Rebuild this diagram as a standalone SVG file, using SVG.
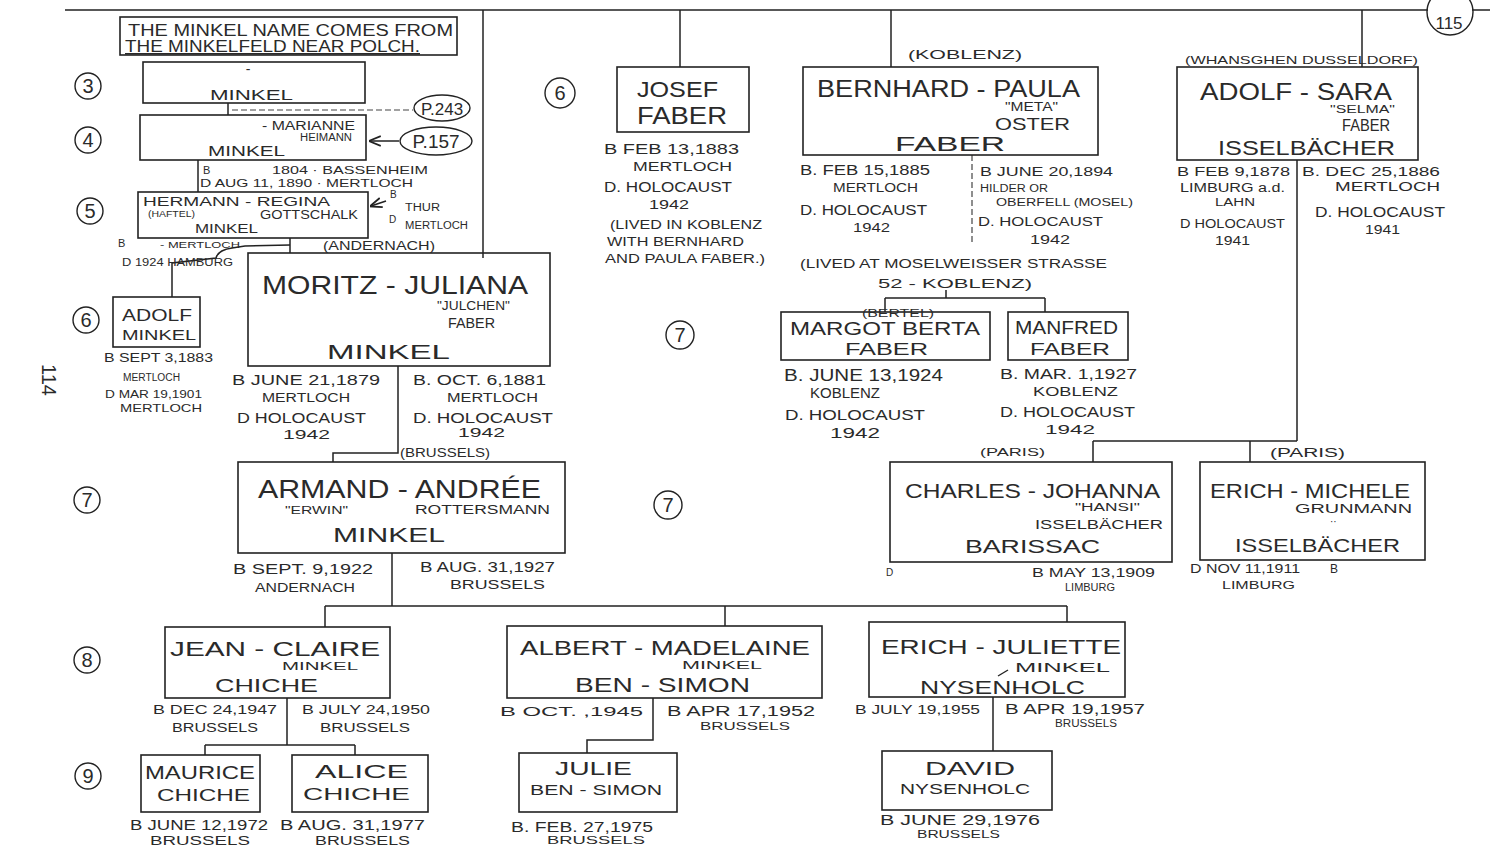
<svg xmlns="http://www.w3.org/2000/svg" width="1490" height="852" viewBox="0 0 1490 852">
<defs>
<marker id="ah" viewBox="0 0 10 10" refX="9" refY="5" markerWidth="8" markerHeight="8" orient="auto-start-reverse"><path d="M0,1 L10,5 L0,9" fill="none" stroke="#222" stroke-width="1.5"/></marker>
</defs>
<style>
text{font-family:"Liberation Sans",Arial,sans-serif;fill:#2a2a2a}
.b{fill:none;stroke:#222;stroke-width:1.6}
.c{fill:none;stroke:#222;stroke-width:1.5}
.d{fill:none;stroke:#444;stroke-width:1.2;stroke-dasharray:6 3}
.g{fill:none;stroke:#222;stroke-width:1.4}
.n{font-size:20px;text-anchor:middle}
</style>
<rect width="1490" height="852" fill="#fff"/>

<g id="connectors">
<path class="c" d="M65,10 H1428 M1472,10 H1490"/>
<path class="c" d="M483,10 V258"/>
<path class="c" d="M680,10 V67"/>
<path class="c" d="M891,10 V67"/>
<path class="c" d="M1362,10 V67"/>
<path class="c" d="M228,103 V115"/>
<path class="d" d="M232,110 H413"/>
<path class="c" d="M399,141 H370" marker-end="url(#ah)"/>
<path class="c" d="M386,201 L371,206" marker-end="url(#ah)"/>
<path class="c" d="M198,160 V192"/>
<path class="c" d="M290,238 V253"/>
<path class="c" d="M290,245 L245,246 L232,248 Q218,250 216,258 L172,263 V297"/>
<path class="c" d="M398,366 V453 H333 V462"/>
<path class="c" d="M392,553 V606"/>
<path class="c" d="M325,606 H1067 M325,606 V627 M725,606 V626 M1067,606 V622"/>
<path class="c" d="M287,698 V745 M205,745 H355 M205,745 V755 M355,745 V755"/>
<path class="c" d="M653,698 V740 H587 V753"/>
<path class="c" d="M993,697 V751"/>
<path class="d" d="M972,155 V245"/>
<path class="c" d="M946,290 V298 M885,298 H1045 M885,298 V312 M1045,298 V312"/>
<path class="c" d="M1297,160 V441 M1093,441 H1297 M1093,441 V462 M1250,441 V462"/>
</g>

<g id="page-marks">
<text x="42" y="380" font-size="20" text-anchor="middle" transform="rotate(90 42 380)">114</text>
<circle class="g" cx="1450" cy="12" r="23"/>
<text x="1449" y="29" font-size="17" text-anchor="middle">115</text>
</g>

<g id="gen-labels">
<circle class="g" cx="88" cy="86" r="13"/><text class="n" x="88" y="93">3</text>
<circle class="g" cx="88" cy="140" r="13"/><text class="n" x="88" y="147">4</text>
<circle class="g" cx="90" cy="211" r="13"/><text class="n" x="90" y="218">5</text>
<circle class="g" cx="86" cy="320" r="13"/><text class="n" x="86" y="327">6</text>
<circle class="g" cx="87" cy="500" r="13"/><text class="n" x="87" y="507">7</text>
<circle class="g" cx="87" cy="660" r="13"/><text class="n" x="87" y="667">8</text>
<circle class="g" cx="88" cy="776" r="13"/><text class="n" x="88" y="783">9</text>
<circle class="g" cx="560" cy="93" r="15"/><text class="n" x="560" y="100">6</text>
<circle class="g" cx="680" cy="335" r="14"/><text class="n" x="680" y="342">7</text>
<circle class="g" cx="668" cy="505" r="14"/><text class="n" x="668" y="512">7</text>
</g>

<g id="note">
<rect class="b" x="120" y="17" width="337" height="38"/>
<text x="128" y="36" font-size="16" textLength="325" lengthAdjust="spacingAndGlyphs">THE MINKEL NAME COMES FROM</text>
<text x="125" y="52" font-size="16" textLength="295" lengthAdjust="spacingAndGlyphs" text-decoration="underline">THE MINKELFELD NEAR POLCH.</text>
</g>

<g id="gen3">
<rect class="b" x="143" y="62" width="222" height="41"/>
<text x="248" y="74" font-size="14" text-anchor="middle">-</text>
<text x="210" y="100" font-size="15" textLength="83" lengthAdjust="spacingAndGlyphs">MINKEL</text>
</g>

<g id="ref-p243">
<ellipse class="g" cx="442" cy="108" rx="28" ry="13"/>
<text x="442" y="115" font-size="17" text-anchor="middle">P.243</text>
</g>
<g id="ref-p157">
<ellipse class="g" cx="436" cy="141" rx="36" ry="14"/>
<text x="436" y="148" font-size="19" text-anchor="middle">P.157</text>
</g>

<g id="gen4">
<rect class="b" x="140" y="115" width="226" height="45"/>
<text x="262" y="130" font-size="12" textLength="93" lengthAdjust="spacingAndGlyphs">- MARIANNE</text>
<text x="300" y="141" font-size="10" textLength="52" lengthAdjust="spacingAndGlyphs">HEIMANN</text>
<text x="208" y="156" font-size="15" textLength="77" lengthAdjust="spacingAndGlyphs">MINKEL</text>
<text x="203" y="174" font-size="11">B</text>
<text x="272" y="174" font-size="11" textLength="156" lengthAdjust="spacingAndGlyphs">1804 · BASSENHEIM</text>
<text x="200" y="187" font-size="11" textLength="213" lengthAdjust="spacingAndGlyphs">D AUG 11, 1890 · MERTLOCH</text>
</g>

<g id="gen5">
<rect class="b" x="138" y="192" width="230" height="46"/>
<text x="143" y="206" font-size="13" textLength="187" lengthAdjust="spacingAndGlyphs">HERMANN - REGINA</text>
<text x="148" y="217" font-size="9" textLength="47" lengthAdjust="spacingAndGlyphs">(HAFTEL)</text>
<text x="260" y="219" font-size="12" textLength="98" lengthAdjust="spacingAndGlyphs">GOTTSCHALK</text>
<text x="195" y="233" font-size="12" textLength="63" lengthAdjust="spacingAndGlyphs">MINKEL</text>
<text x="390" y="198" font-size="10">B</text>
<text x="405" y="211" font-size="10" textLength="35" lengthAdjust="spacingAndGlyphs">THUR</text>
<text x="389" y="223" font-size="10">D</text>
<text x="405" y="229" font-size="10" textLength="63" lengthAdjust="spacingAndGlyphs">MERTLOCH</text>
<text x="118" y="247" font-size="11">B</text>
<text x="160" y="248" font-size="9" textLength="80" lengthAdjust="spacingAndGlyphs">- MERTLOCH</text>
<text x="122" y="266" font-size="11" textLength="111" lengthAdjust="spacingAndGlyphs">D 1924 HAMBURG</text>
<text x="323" y="250" font-size="13" textLength="112" lengthAdjust="spacingAndGlyphs">(ANDERNACH)</text>
</g>

<g id="adolf-minkel">
<rect class="b" x="113" y="297" width="87" height="50"/>
<text x="122" y="321" font-size="17" textLength="70" lengthAdjust="spacingAndGlyphs">ADOLF</text>
<text x="122" y="340" font-size="14" textLength="74" lengthAdjust="spacingAndGlyphs">MINKEL</text>
<text x="104" y="362" font-size="13" textLength="109" lengthAdjust="spacingAndGlyphs">B SEPT 3,1883</text>
<text x="123" y="381" font-size="10" textLength="57" lengthAdjust="spacingAndGlyphs">MERTLOCH</text>
<text x="105" y="398" font-size="11" textLength="97" lengthAdjust="spacingAndGlyphs">D MAR 19,1901</text>
<text x="120" y="412" font-size="11" textLength="82" lengthAdjust="spacingAndGlyphs">MERTLOCH</text>
</g>

<g id="moritz-juliana">
<rect class="b" x="248" y="253" width="302" height="113"/>
<text x="262" y="294" font-size="26" textLength="266" lengthAdjust="spacingAndGlyphs">MORITZ - JULIANA</text>
<text x="437" y="310" font-size="12" textLength="73" lengthAdjust="spacingAndGlyphs">"JULCHEN"</text>
<text x="448" y="328" font-size="14" textLength="47" lengthAdjust="spacingAndGlyphs">FABER</text>
<text x="327" y="359" font-size="21" textLength="123" lengthAdjust="spacingAndGlyphs">MINKEL</text>
<text x="232" y="385" font-size="14" textLength="148" lengthAdjust="spacingAndGlyphs">B JUNE 21,1879</text>
<text x="262" y="402" font-size="12" textLength="88" lengthAdjust="spacingAndGlyphs">MERTLOCH</text>
<text x="237" y="423" font-size="14" textLength="129" lengthAdjust="spacingAndGlyphs">D HOLOCAUST</text>
<text x="283" y="439" font-size="13" textLength="47" lengthAdjust="spacingAndGlyphs">1942</text>
<text x="413" y="385" font-size="14" textLength="133" lengthAdjust="spacingAndGlyphs">B. OCT. 6,1881</text>
<text x="447" y="402" font-size="12" textLength="91" lengthAdjust="spacingAndGlyphs">MERTLOCH</text>
<text x="413" y="423" font-size="15" textLength="140" lengthAdjust="spacingAndGlyphs">D. HOLOCAUST</text>
<text x="458" y="437" font-size="13" textLength="47" lengthAdjust="spacingAndGlyphs">1942</text>
</g>

<g id="armand-andree">
<rect class="b" x="238" y="462" width="327" height="91"/>
<text x="400" y="457" font-size="12" textLength="90" lengthAdjust="spacingAndGlyphs">(BRUSSELS)</text>
<text x="258" y="498" font-size="25" textLength="283" lengthAdjust="spacingAndGlyphs">ARMAND - ANDRÉE</text>
<text x="285" y="514" font-size="11" textLength="63" lengthAdjust="spacingAndGlyphs">"ERWIN"</text>
<text x="415" y="514" font-size="12" textLength="135" lengthAdjust="spacingAndGlyphs">ROTTERSMANN</text>
<text x="333" y="542" font-size="20" textLength="112" lengthAdjust="spacingAndGlyphs">MINKEL</text>
<text x="233" y="574" font-size="14" textLength="140" lengthAdjust="spacingAndGlyphs">B SEPT. 9,1922</text>
<text x="255" y="592" font-size="12" textLength="100" lengthAdjust="spacingAndGlyphs">ANDERNACH</text>
<text x="420" y="572" font-size="14" textLength="135" lengthAdjust="spacingAndGlyphs">B AUG. 31,1927</text>
<text x="450" y="589" font-size="13" textLength="95" lengthAdjust="spacingAndGlyphs">BRUSSELS</text>
</g>

<g id="josef-faber">
<rect class="b" x="617" y="67" width="132" height="65"/>
<text x="637" y="97" font-size="22" textLength="81" lengthAdjust="spacingAndGlyphs">JOSEF</text>
<text x="637" y="124" font-size="23" textLength="90" lengthAdjust="spacingAndGlyphs">FABER</text>
<text x="604" y="154" font-size="15" textLength="135" lengthAdjust="spacingAndGlyphs">B FEB 13,1883</text>
<text x="633" y="171" font-size="12" textLength="99" lengthAdjust="spacingAndGlyphs">MERTLOCH</text>
<text x="604" y="192" font-size="14" textLength="128" lengthAdjust="spacingAndGlyphs">D. HOLOCAUST</text>
<text x="649" y="209" font-size="13" textLength="40" lengthAdjust="spacingAndGlyphs">1942</text>
<text x="610" y="229" font-size="12" textLength="152" lengthAdjust="spacingAndGlyphs">(LIVED IN KOBLENZ</text>
<text x="607" y="246" font-size="12" textLength="137" lengthAdjust="spacingAndGlyphs">WITH BERNHARD</text>
<text x="605" y="263" font-size="12" textLength="160" lengthAdjust="spacingAndGlyphs">AND PAULA FABER.)</text>
</g>

<g id="bernhard-paula">
<rect class="b" x="803" y="67" width="295" height="88"/>
<text x="908" y="59" font-size="13" textLength="114" lengthAdjust="spacingAndGlyphs">(KOBLENZ)</text>
<text x="817" y="97" font-size="23" textLength="263" lengthAdjust="spacingAndGlyphs">BERNHARD - PAULA</text>
<text x="1005" y="111" font-size="12" textLength="53" lengthAdjust="spacingAndGlyphs">"META"</text>
<text x="995" y="130" font-size="17" textLength="75" lengthAdjust="spacingAndGlyphs">OSTER</text>
<text x="895" y="151" font-size="21" textLength="110" lengthAdjust="spacingAndGlyphs">FABER</text>
<text x="800" y="175" font-size="14" textLength="130" lengthAdjust="spacingAndGlyphs">B. FEB 15,1885</text>
<text x="833" y="192" font-size="12" textLength="85" lengthAdjust="spacingAndGlyphs">MERTLOCH</text>
<text x="800" y="215" font-size="14" textLength="127" lengthAdjust="spacingAndGlyphs">D. HOLOCAUST</text>
<text x="853" y="232" font-size="12" textLength="37" lengthAdjust="spacingAndGlyphs">1942</text>
<text x="980" y="176" font-size="13" textLength="133" lengthAdjust="spacingAndGlyphs">B JUNE 20,1894</text>
<text x="980" y="192" font-size="10" textLength="68" lengthAdjust="spacingAndGlyphs">HILDER OR</text>
<text x="996" y="206" font-size="11" textLength="137" lengthAdjust="spacingAndGlyphs">OBERFELL (MOSEL)</text>
<text x="978" y="226" font-size="13" textLength="125" lengthAdjust="spacingAndGlyphs">D. HOLOCAUST</text>
<text x="1030" y="244" font-size="12" textLength="40" lengthAdjust="spacingAndGlyphs">1942</text>
<text x="800" y="268" font-size="13" textLength="307" lengthAdjust="spacingAndGlyphs">(LIVED AT MOSELWEISSER STRASSE</text>
<text x="878" y="288" font-size="13" textLength="154" lengthAdjust="spacingAndGlyphs">52 - KOBLENZ)</text>
</g>

<g id="margot-faber">
<rect class="b" x="781" y="312" width="209" height="48"/>
<text x="862" y="317" font-size="11" textLength="72" lengthAdjust="spacingAndGlyphs">(BERTEL)</text>
<text x="790" y="335" font-size="18" textLength="190" lengthAdjust="spacingAndGlyphs">MARGOT  BERTA</text>
<text x="845" y="355" font-size="17" textLength="83" lengthAdjust="spacingAndGlyphs">FABER</text>
<text x="784" y="381" font-size="16" textLength="159" lengthAdjust="spacingAndGlyphs">B. JUNE 13,1924</text>
<text x="810" y="398" font-size="14" textLength="70" lengthAdjust="spacingAndGlyphs">KOBLENZ</text>
<text x="785" y="420" font-size="15" textLength="140" lengthAdjust="spacingAndGlyphs">D. HOLOCAUST</text>
<text x="830" y="438" font-size="14" textLength="50" lengthAdjust="spacingAndGlyphs">1942</text>
</g>

<g id="manfred-faber">
<rect class="b" x="1008" y="312" width="120" height="48"/>
<text x="1015" y="334" font-size="18" textLength="103" lengthAdjust="spacingAndGlyphs">MANFRED</text>
<text x="1030" y="355" font-size="17" textLength="80" lengthAdjust="spacingAndGlyphs">FABER</text>
<text x="1000" y="379" font-size="15" textLength="137" lengthAdjust="spacingAndGlyphs">B. MAR. 1,1927</text>
<text x="1033" y="396" font-size="13" textLength="85" lengthAdjust="spacingAndGlyphs">KOBLENZ</text>
<text x="1000" y="417" font-size="14" textLength="135" lengthAdjust="spacingAndGlyphs">D. HOLOCAUST</text>
<text x="1045" y="434" font-size="13" textLength="50" lengthAdjust="spacingAndGlyphs">1942</text>
</g>

<g id="adolf-sara">
<rect class="b" x="1177" y="67" width="241" height="93"/>
<text x="1185" y="64" font-size="11" textLength="233" lengthAdjust="spacingAndGlyphs">(WHANSGHEN DUSSELDORF)</text>
<text x="1200" y="100" font-size="24" textLength="192" lengthAdjust="spacingAndGlyphs">ADOLF - SARA</text>
<text x="1330" y="113" font-size="10" textLength="65" lengthAdjust="spacingAndGlyphs">"SELMA"</text>
<text x="1342" y="131" font-size="16" textLength="48" lengthAdjust="spacingAndGlyphs">FABER</text>
<text x="1218" y="155" font-size="21" textLength="177" lengthAdjust="spacingAndGlyphs">ISSELBÄCHER</text>
<text x="1177" y="176" font-size="12" textLength="113" lengthAdjust="spacingAndGlyphs">B FEB 9,1878</text>
<text x="1180" y="192" font-size="12" textLength="105" lengthAdjust="spacingAndGlyphs">LIMBURG a.d.</text>
<text x="1215" y="206" font-size="10" textLength="40" lengthAdjust="spacingAndGlyphs">LAHN</text>
<text x="1180" y="228" font-size="13" textLength="105" lengthAdjust="spacingAndGlyphs">D HOLOCAUST</text>
<text x="1215" y="245" font-size="12" textLength="35" lengthAdjust="spacingAndGlyphs">1941</text>
<text x="1302" y="176" font-size="13" textLength="138" lengthAdjust="spacingAndGlyphs">B. DEC 25,1886</text>
<text x="1335" y="191" font-size="13" textLength="105" lengthAdjust="spacingAndGlyphs">MERTLOCH</text>
<text x="1315" y="217" font-size="14" textLength="130" lengthAdjust="spacingAndGlyphs">D. HOLOCAUST</text>
<text x="1365" y="234" font-size="12" textLength="35" lengthAdjust="spacingAndGlyphs">1941</text>
</g>

<g id="charles-johanna">
<rect class="b" x="890" y="462" width="282" height="100"/>
<text x="980" y="456" font-size="11" textLength="65" lengthAdjust="spacingAndGlyphs">(PARIS)</text>
<text x="905" y="498" font-size="21" textLength="255" lengthAdjust="spacingAndGlyphs">CHARLES - JOHANNA</text>
<text x="1075" y="511" font-size="10" textLength="65" lengthAdjust="spacingAndGlyphs">"HANSI"</text>
<text x="1035" y="529" font-size="12" textLength="128" lengthAdjust="spacingAndGlyphs">ISSELBÄCHER</text>
<text x="965" y="553" font-size="19" textLength="135" lengthAdjust="spacingAndGlyphs">BARISSAC</text>
<text x="886" y="576" font-size="10">D</text>
<text x="1032" y="577" font-size="12" textLength="123" lengthAdjust="spacingAndGlyphs">B MAY 13,1909</text>
<text x="1065" y="591" font-size="10" textLength="50" lengthAdjust="spacingAndGlyphs">LIMBURG</text>
</g>

<g id="erich-michele">
<rect class="b" x="1200" y="462" width="225" height="98"/>
<text x="1270" y="457" font-size="12" textLength="75" lengthAdjust="spacingAndGlyphs">(PARIS)</text>
<text x="1210" y="498" font-size="20" textLength="200" lengthAdjust="spacingAndGlyphs">ERICH - MICHELE</text>
<text x="1295" y="513" font-size="12" textLength="117" lengthAdjust="spacingAndGlyphs">GRUNMANN</text>
<text x="1330" y="525" font-size="10">··</text>
<text x="1235" y="552" font-size="19" textLength="165" lengthAdjust="spacingAndGlyphs">ISSELBÄCHER</text>
<text x="1190" y="573" font-size="12" textLength="110" lengthAdjust="spacingAndGlyphs">D NOV 11,1911</text>
<text x="1330" y="573" font-size="12">B</text>
<text x="1222" y="589" font-size="11" textLength="73" lengthAdjust="spacingAndGlyphs">LIMBURG</text>
</g>

<g id="jean-claire">
<rect class="b" x="165" y="627" width="225" height="71"/>
<text x="170" y="656" font-size="21" textLength="210" lengthAdjust="spacingAndGlyphs">JEAN - CLAIRE</text>
<text x="282" y="670" font-size="10" textLength="76" lengthAdjust="spacingAndGlyphs">MINKEL</text>
<text x="215" y="692" font-size="18" textLength="103" lengthAdjust="spacingAndGlyphs">CHICHE</text>
<text x="153" y="714" font-size="13" textLength="124" lengthAdjust="spacingAndGlyphs">B DEC 24,1947</text>
<text x="172" y="732" font-size="12" textLength="86" lengthAdjust="spacingAndGlyphs">BRUSSELS</text>
<text x="302" y="714" font-size="13" textLength="128" lengthAdjust="spacingAndGlyphs">B JULY 24,1950</text>
<text x="320" y="732" font-size="12" textLength="90" lengthAdjust="spacingAndGlyphs">BRUSSELS</text>
</g>

<g id="maurice-chiche">
<rect class="b" x="141" y="755" width="119" height="57"/>
<text x="145" y="779" font-size="18" textLength="110" lengthAdjust="spacingAndGlyphs">MAURICE</text>
<text x="157" y="801" font-size="16" textLength="93" lengthAdjust="spacingAndGlyphs">CHICHE</text>
<text x="130" y="830" font-size="15" textLength="138" lengthAdjust="spacingAndGlyphs">B JUNE 12,1972</text>
<text x="150" y="845" font-size="12" textLength="100" lengthAdjust="spacingAndGlyphs">BRUSSELS</text>
</g>

<g id="alice-chiche">
<rect class="b" x="292" y="755" width="136" height="57"/>
<text x="315" y="778" font-size="18" textLength="93" lengthAdjust="spacingAndGlyphs">ALICE</text>
<text x="303" y="800" font-size="16" textLength="107" lengthAdjust="spacingAndGlyphs">CHICHE</text>
<text x="280" y="830" font-size="15" textLength="145" lengthAdjust="spacingAndGlyphs">B AUG. 31,1977</text>
<text x="315" y="845" font-size="12" textLength="95" lengthAdjust="spacingAndGlyphs">BRUSSELS</text>
</g>

<g id="albert-madelaine">
<rect class="b" x="507" y="626" width="315" height="72"/>
<text x="520" y="655" font-size="21" textLength="290" lengthAdjust="spacingAndGlyphs">ALBERT - MADELAINE</text>
<text x="682" y="669" font-size="10" textLength="80" lengthAdjust="spacingAndGlyphs">MINKEL</text>
<text x="575" y="692" font-size="20" textLength="175" lengthAdjust="spacingAndGlyphs">BEN - SIMON</text>
<text x="500" y="716" font-size="12" textLength="143" lengthAdjust="spacingAndGlyphs">B OCT.       ,1945</text>
<text x="667" y="716" font-size="14" textLength="148" lengthAdjust="spacingAndGlyphs">B APR 17,1952</text>
<text x="700" y="730" font-size="11" textLength="90" lengthAdjust="spacingAndGlyphs">BRUSSELS</text>
</g>

<g id="julie-ben-simon">
<rect class="b" x="519" y="753" width="158" height="59"/>
<text x="555" y="775" font-size="18" textLength="77" lengthAdjust="spacingAndGlyphs">JULIE</text>
<text x="530" y="795" font-size="14" textLength="132" lengthAdjust="spacingAndGlyphs">BEN - SIMON</text>
<text x="511" y="832" font-size="14" textLength="142" lengthAdjust="spacingAndGlyphs">B. FEB. 27,1975</text>
<text x="547" y="844" font-size="11" textLength="98" lengthAdjust="spacingAndGlyphs">BRUSSELS</text>
</g>

<g id="erich-juliette">
<rect class="b" x="869" y="622" width="256" height="75"/>
<text x="881" y="654" font-size="21" textLength="240" lengthAdjust="spacingAndGlyphs">ERICH - JULIETTE</text>
<text x="1015" y="672" font-size="12" textLength="95" lengthAdjust="spacingAndGlyphs">MINKEL</text>
<path class="g" d="M998,676 L1008,670"/>
<text x="920" y="694" font-size="19" textLength="165" lengthAdjust="spacingAndGlyphs">NYSENHOLC</text>
<text x="855" y="714" font-size="12" textLength="125" lengthAdjust="spacingAndGlyphs">B JULY 19,1955</text>
<text x="1005" y="714" font-size="14" textLength="140" lengthAdjust="spacingAndGlyphs">B APR 19,1957</text>
<text x="1055" y="727" font-size="10" textLength="62" lengthAdjust="spacingAndGlyphs">BRUSSELS</text>
</g>

<g id="david-nysenholc">
<rect class="b" x="882" y="751" width="170" height="59"/>
<text x="925" y="775" font-size="19" textLength="90" lengthAdjust="spacingAndGlyphs">DAVID</text>
<text x="900" y="794" font-size="15" textLength="130" lengthAdjust="spacingAndGlyphs">NYSENHOLC</text>
<text x="880" y="825" font-size="14" textLength="160" lengthAdjust="spacingAndGlyphs">B JUNE 29,1976</text>
<text x="917" y="838" font-size="10" textLength="83" lengthAdjust="spacingAndGlyphs">BRUSSELS</text>
</g>
</svg>
